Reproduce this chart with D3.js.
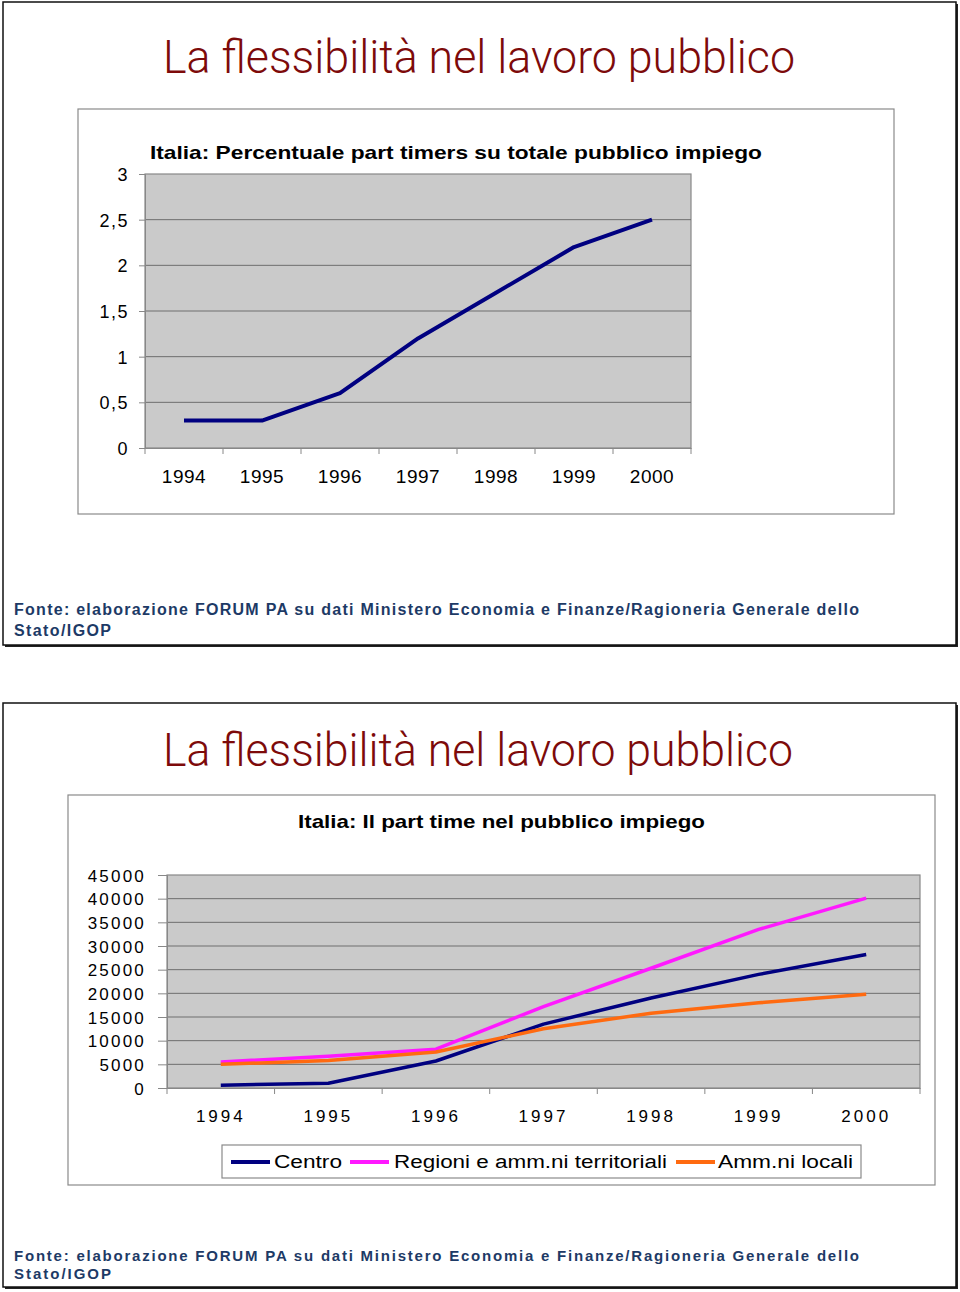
<!DOCTYPE html>
<html><head><meta charset="utf-8">
<script src="https://cdn.jsdelivr.net/npm/d3@7"></script>
<style>
html,body{margin:0;padding:0;background:#fff;}
svg{display:block;}
</style></head>
<body>
<svg id="c" width="960" height="1292"></svg>
<script>
// ---- data ----
const years = ["1994","1995","1996","1997","1998","1999","2000"];
const percPartTime = [0.3, 0.3, 0.6, 1.2, 1.7, 2.2, 2.5];
const yTicks1 = [0, 0.5, 1, 1.5, 2, 2.5, 3];

const seriesNames = ["Centro", "Regioni e amm.ni territoriali", "Amm.ni locali"];
const centro =   [600, 1000, 5700, 13500, 19000, 24000, 28200];
const regioni =  [5500, 6700, 8200, 17200, 25300, 33500, 40100];
const locali =   [5000, 5800, 7600, 12500, 15800, 18000, 19800];
const yTicks2 = [0, 5000, 10000, 15000, 20000, 25000, 30000, 35000, 40000, 45000];

const slideTitle = "La flessibilità nel lavoro pubblico";
const chartTitle1 = "Italia: Percentuale part timers su totale pubblico impiego";
const chartTitle2 = "Italia: Il part time nel pubblico impiego";
const fonte1 = "Fonte: elaborazione FORUM PA su dati Ministero Economia e Finanze/Ragioneria Generale dello";
const fonte2 = "Stato/IGOP";

const svg = d3.select("#c");
const titleColor = "#7d0a0a";
const fonteColor = "#1d3a66";
const colors = ["#000080", "#ff19ff", "#ff6a10"];
const plotFill = "#cacaca";
const gridColor = "#6e6e6e";
const axisColor = "#888888";

// ---- slide frames ----
function slideFrame(x, y, w, h) {
  svg.append("rect").attr("x", x + 2).attr("y", y + 2).attr("width", w).attr("height", h)
    .attr("fill", "#222");
  svg.append("rect").attr("x", x).attr("y", y).attr("width", w).attr("height", h)
    .attr("fill", "#fff").attr("stroke", "#111").attr("stroke-width", 1.5);
}
slideFrame(3, 2, 953, 643);
slideFrame(3, 703, 953, 584);

function textFit(x, y, str, len, opts) {
  const t = svg.append("text").attr("x", x).attr("y", y).text(str)
    .attr("font-family", opts.family || "'Liberation Sans', Arial, sans-serif")
    .attr("font-size", opts.size)
    .attr("font-weight", opts.weight || "normal")
    .attr("fill", opts.fill || "#000");
  if (len) t.attr("textLength", len).attr("lengthAdjust", opts.adjust || "spacing");
  return t;
}

// ---- slide titles ----
const titleFont = "Roboto, 'Open Sans', 'Liberation Sans', sans-serif";
textFit(163, 73, slideTitle, 632, {size: 46, family: titleFont, weight: 300, fill: titleColor, adjust: "spacingAndGlyphs"});
textFit(163, 766, slideTitle, 630, {size: 46, family: titleFont, weight: 300, fill: titleColor, adjust: "spacingAndGlyphs"});

// ---- fonte ----
textFit(14, 615, fonte1, 845, {size: 16, weight: "bold", fill: fonteColor});
textFit(14, 636, fonte2, 97, {size: 16, weight: "bold", fill: fonteColor});
textFit(14, 1261, fonte1, 845, {size: 15, weight: "bold", fill: fonteColor});
textFit(14, 1279, fonte2, 97, {size: 15, weight: "bold", fill: fonteColor});

// ================= CHART 1 =================
svg.append("rect").attr("x", 78).attr("y", 109).attr("width", 816).attr("height", 405)
  .attr("fill", "#fff").attr("stroke", "#8a8a8a").attr("stroke-width", 1.2);
textFit(150, 159, chartTitle1, 612, {size: 19, weight: "bold", adjust: "spacingAndGlyphs"});

const p1 = {l: 145, r: 691, t: 174, b: 448};
const x1 = d3.scaleBand().domain(years).range([p1.l, p1.r]).padding(0);
const y1 = d3.scaleLinear().domain([0, 3]).range([p1.b, p1.t]);
const g1 = svg.append("g");
g1.append("rect").attr("x", p1.l).attr("y", p1.t).attr("width", p1.r - p1.l).attr("height", p1.b - p1.t)
  .attr("fill", plotFill).attr("stroke", axisColor).attr("stroke-width", 1.2);
g1.selectAll("line.grid").data(yTicks1.filter(d => d > 0 && d < 3)).join("line")
  .attr("x1", p1.l).attr("x2", p1.r).attr("y1", d => y1(d)).attr("y2", d => y1(d))
  .attr("stroke", gridColor).attr("stroke-width", 1);
const ax1 = d3.axisLeft(y1).tickValues(yTicks1).tickSize(6).tickPadding(10)
  .tickFormat(d => String(d).replace(".", ","));
const ga1 = g1.append("g").attr("transform", `translate(${p1.l},0)`).call(ax1);
ga1.select(".domain").attr("stroke", axisColor);
ga1.selectAll(".tick line").attr("stroke", axisColor);
ga1.selectAll("text").attr("font-family", "'Liberation Sans', Arial, sans-serif").attr("font-size", 18)
  .attr("fill", "#000").attr("letter-spacing", 1.5).attr("dy", "0.36em");
const bx1 = d3.axisBottom(x1).tickSize(0).tickPadding(20);
const gb1 = g1.append("g").attr("transform", `translate(0,${p1.b})`).call(bx1);
gb1.select(".domain").attr("stroke", axisColor);
gb1.selectAll("text").attr("font-family", "'Liberation Sans', Arial, sans-serif").attr("font-size", 19)
  .attr("fill", "#000").attr("letter-spacing", 0.5).attr("dy", "0.8em");
g1.selectAll("line.xt").data(years.concat(["end"])).join("line")
  .attr("x1", (d, i) => p1.l + i * x1.bandwidth()).attr("x2", (d, i) => p1.l + i * x1.bandwidth())
  .attr("y1", p1.b).attr("y2", p1.b + 6).attr("stroke", axisColor);
const line1 = d3.line().x((d, i) => x1(years[i]) + x1.bandwidth() / 2).y(d => y1(d));
g1.append("path").datum(percPartTime).attr("d", line1).attr("fill", "none")
  .attr("stroke", colors[0]).attr("stroke-width", 4).attr("stroke-linejoin", "round");

// ================= CHART 2 =================
svg.append("rect").attr("x", 68).attr("y", 795).attr("width", 867).attr("height", 390)
  .attr("fill", "#fff").attr("stroke", "#8a8a8a").attr("stroke-width", 1.2);
textFit(298, 828, chartTitle2, 407, {size: 19, weight: "bold", adjust: "spacingAndGlyphs"});

const p2 = {l: 167, r: 920, t: 875, b: 1088};
const x2 = d3.scaleBand().domain(years).range([p2.l, p2.r]).padding(0);
const y2 = d3.scaleLinear().domain([0, 45000]).range([p2.b, p2.t]);
const g2 = svg.append("g");
g2.append("rect").attr("x", p2.l).attr("y", p2.t).attr("width", p2.r - p2.l).attr("height", p2.b - p2.t)
  .attr("fill", plotFill).attr("stroke", axisColor).attr("stroke-width", 1.2);
g2.selectAll("line.grid").data(yTicks2.filter(d => d > 0 && d < 45000)).join("line")
  .attr("x1", p2.l).attr("x2", p2.r).attr("y1", d => y2(d)).attr("y2", d => y2(d))
  .attr("stroke", gridColor).attr("stroke-width", 1);
const ax2 = d3.axisLeft(y2).tickValues(yTicks2).tickSize(9).tickPadding(12).tickFormat(d => String(d));
const ga2 = g2.append("g").attr("transform", `translate(${p2.l},0)`).call(ax2);
ga2.select(".domain").attr("stroke", axisColor);
ga2.selectAll(".tick line").attr("stroke", axisColor);
ga2.selectAll("text").attr("font-family", "'Liberation Sans', Arial, sans-serif").attr("font-size", 17)
  .attr("fill", "#000").attr("letter-spacing", 2.2).attr("dy", "0.36em");
const bx2 = d3.axisBottom(x2).tickSize(0).tickPadding(20);
const gb2 = g2.append("g").attr("transform", `translate(0,${p2.b})`).call(bx2);
gb2.select(".domain").attr("stroke", axisColor);
gb2.selectAll("text").attr("font-family", "'Liberation Sans', Arial, sans-serif").attr("font-size", 17)
  .attr("fill", "#000").attr("letter-spacing", 3).attr("dy", "0.8em");
g2.selectAll("line.xt").data(years.concat(["end"])).join("line")
  .attr("x1", (d, i) => p2.l + i * x2.bandwidth()).attr("x2", (d, i) => p2.l + i * x2.bandwidth())
  .attr("y1", p2.b).attr("y2", p2.b + 6).attr("stroke", axisColor);
const line2 = d3.line().x((d, i) => x2(years[i]) + x2.bandwidth() / 2).y(d => y2(d));
[centro, regioni, locali].forEach((s, k) => {
  g2.append("path").datum(s).attr("d", line2).attr("fill", "none")
    .attr("stroke", colors[k]).attr("stroke-width", 3.5).attr("stroke-linejoin", "round");
});

// legend
svg.append("rect").attr("x", 222).attr("y", 1145).attr("width", 639).attr("height", 33)
  .attr("fill", "#fff").attr("stroke", "#8a8a8a").attr("stroke-width", 1.2);
const legItems = [
  {lx: 231, tx: 274, len: 68},
  {lx: 350, tx: 394, len: 273},
  {lx: 676, tx: 718, len: 135}
];
legItems.forEach((it, k) => {
  svg.append("line").attr("x1", it.lx).attr("x2", it.lx + 39).attr("y1", 1162).attr("y2", 1162)
    .attr("stroke", colors[k]).attr("stroke-width", 4);
  textFit(it.tx, 1168, seriesNames[k], it.len, {size: 18, adjust: "spacingAndGlyphs"});
});
</script>
</body></html>
